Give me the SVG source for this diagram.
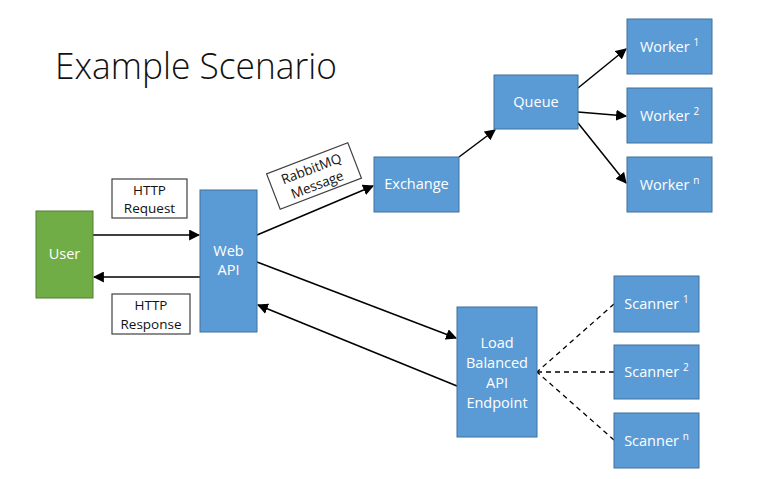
<svg xmlns="http://www.w3.org/2000/svg" width="759" height="479" viewBox="0 0 759 479">
<style>
.b{fill:#5B9BD5;stroke:#41719C;stroke-width:1}
.g{fill:#70AD47;stroke:#507E32;stroke-width:1}
.t{fill:#fff;font-family:"Open Sans","Liberation Sans",sans-serif;font-size:14.5px;text-anchor:middle}
.l{fill:#fff;stroke:#404040;stroke-width:1.2}
.lt{fill:#111;font-family:"Open Sans","Liberation Sans",sans-serif;font-size:13.5px;text-anchor:middle}
.s{font-size:10px}
.c{stroke:#000;stroke-width:1.5;fill:none}
.d{stroke:#000;stroke-width:1.3;fill:none;stroke-dasharray:5 4}
</style>
<defs>
<marker id="A" viewBox="0 0 10 10" refX="9" refY="5" markerWidth="11" markerHeight="11" markerUnits="userSpaceOnUse" orient="auto"><path d="M0,0L10,5L0,10z" fill="#000"/></marker>
</defs>
<rect width="759" height="479" fill="#fff"/>
<text x="55" y="79" font-family="'Open Sans','Liberation Sans',sans-serif" font-weight="300" font-size="37" fill="#111" textLength="282" lengthAdjust="spacingAndGlyphs">Example Scenario</text>

<g id="connectors">
<line class="c" x1="93" y1="235" x2="199" y2="235" marker-end="url(#A)"/>
<line class="c" x1="200" y1="277" x2="94" y2="277" marker-end="url(#A)"/>
<line class="c" x1="257" y1="235" x2="373" y2="186" marker-end="url(#A)"/>
<line class="c" x1="459" y1="157" x2="495" y2="130" marker-end="url(#A)"/>
<line class="c" x1="578" y1="88" x2="626" y2="49" marker-end="url(#A)"/>
<line class="c" x1="578" y1="112" x2="626" y2="116" marker-end="url(#A)"/>
<line class="c" x1="578" y1="123" x2="626" y2="183" marker-end="url(#A)"/>
<line class="c" x1="257" y1="262" x2="456" y2="338" marker-end="url(#A)"/>
<line class="c" x1="457" y1="386" x2="258" y2="305" marker-end="url(#A)"/>
<line class="d" x1="614" y1="304" x2="537" y2="372"/>
<line class="d" x1="614" y1="372" x2="537" y2="372"/>
<line class="d" x1="614" y1="440" x2="537" y2="372"/>
</g>

<g id="http-request"><rect class="l" x="112" y="179" width="75" height="39"/><text class="lt" x="149.5" y="195">HTTP</text><text class="lt" x="149.5" y="213">Request</text></g>
<g id="http-response"><rect class="l" x="112" y="294" width="78" height="40"/><text class="lt" x="151" y="310">HTTP</text><text class="lt" x="151" y="329">Response</text></g>
<g id="rabbitmq-message" transform="translate(314,176) rotate(-21)"><rect class="l" x="-43.5" y="-19" width="87" height="38"/><text class="lt" x="0" y="-3">RabbitMQ</text><text class="lt" x="0" y="14">Message</text></g>

<g id="user"><rect class="g" x="36" y="211" width="57" height="87"/><text class="t" x="64.5" y="259">User</text></g>
<g id="web-api"><rect class="b" x="200" y="190" width="57" height="142"/><text class="t" x="228.5" y="256">Web</text><text class="t" x="228.5" y="275">API</text></g>
<g id="exchange"><rect class="b" x="374" y="157" width="85" height="55"/><text class="t" x="416.5" y="189">Exchange</text></g>
<g id="queue"><rect class="b" x="494" y="75" width="84" height="54"/><text class="t" x="536" y="107">Queue</text></g>
<g id="worker-1"><rect class="b" x="627" y="19" width="85" height="55"/><text class="t" x="669.5" y="52">Worker <tspan class="s" dy="-6">1</tspan></text></g>
<g id="worker-2"><rect class="b" x="627" y="88" width="85" height="55"/><text class="t" x="669.5" y="121">Worker <tspan class="s" dy="-6">2</tspan></text></g>
<g id="worker-n"><rect class="b" x="627" y="157" width="85" height="55"/><text class="t" x="669.5" y="190">Worker <tspan class="s" dy="-6">n</tspan></text></g>
<g id="load-balanced-api-endpoint"><rect class="b" x="457" y="307" width="80" height="130"/><text class="t" x="497" y="348">Load</text><text class="t" x="497" y="368">Balanced</text><text class="t" x="497" y="388">API</text><text class="t" x="497" y="408">Endpoint</text></g>
<g id="scanner-1"><rect class="b" x="614" y="276" width="85" height="56"/><text class="t" x="656.5" y="309">Scanner <tspan class="s" dy="-6">1</tspan></text></g>
<g id="scanner-2"><rect class="b" x="614" y="345" width="85" height="54"/><text class="t" x="656.5" y="377">Scanner <tspan class="s" dy="-6">2</tspan></text></g>
<g id="scanner-n"><rect class="b" x="614" y="413" width="85" height="55"/><text class="t" x="656.5" y="446">Scanner <tspan class="s" dy="-6">n</tspan></text></g>
</svg>
